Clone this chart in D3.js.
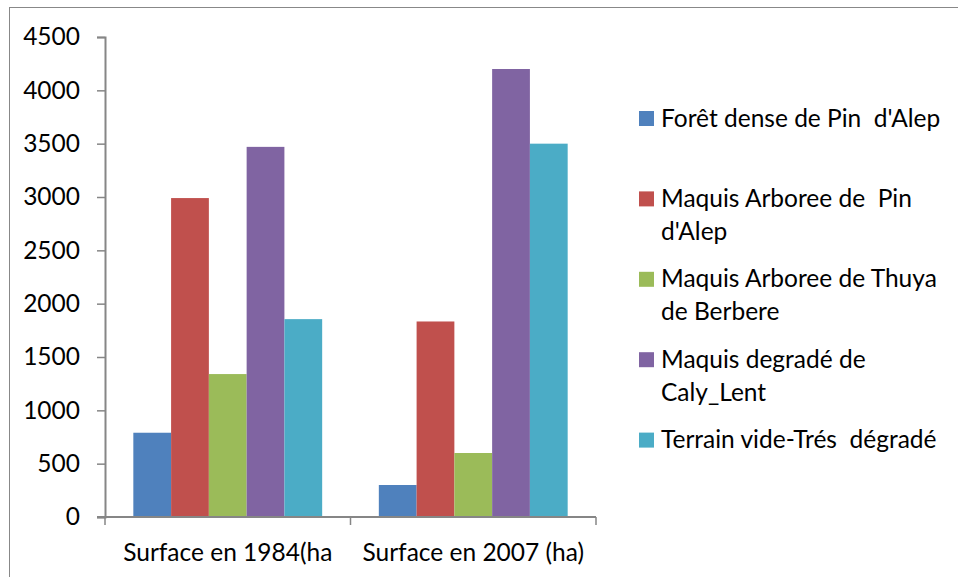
<!DOCTYPE html>
<html>
<head>
<meta charset="utf-8">
<script src="https://cdn.jsdelivr.net/npm/d3@7"></script>
<style>
  html, body { margin: 0; padding: 0; background: #fff; }
  svg { display: block; }
  text { font-family: Lato, "Open Sans", sans-serif; fill: #000; }
</style>
</head>
<body>
<svg id="chart" width="958" height="577"></svg>
<script>
// Land-cover surfaces (ha) for two survey years
const categories = ["Surface en 1984(ha", "Surface en 2007 (ha)"];
const seriesNames = [
  "Forêt dense de Pin  d'Alep",
  "Maquis Arboree de  Pin d'Alep",
  "Maquis Arboree de Thuya de Berbere",
  "Maquis degradé de Caly_Lent",
  "Terrain vide-Trés  dégradé"
];
const legendLines = [
  ["Forêt dense de Pin  d'Alep"],
  ["Maquis Arboree de  Pin", "d'Alep"],
  ["Maquis Arboree de Thuya", "de Berbere"],
  ["Maquis degradé de", "Caly_Lent"],
  ["Terrain vide-Trés  dégradé"]
];
const forêtDense = [790, 300];
const maquisPin = [2990, 1833];
const maquisThuya = [1340, 600];
const maquisDegrade = [3470, 4200];
const terrainVide = [1855, 3500];
const yTicks = [0, 500, 1000, 1500, 2000, 2500, 3000, 3500, 4000, 4500];
const colors = ["#4F81BD", "#C0504D", "#9BBB59", "#8064A2", "#4BACC6"];

const seriesValues = [forêtDense, maquisPin, maquisThuya, maquisDegrade, terrainVide];
const fontSize = "24.5px";

const svg = d3.select("#chart");

// outer chart frame
svg.append("rect")
  .attr("x", 9.5).attr("y", 7.5)
  .attr("width", 1000).attr("height", 1000)
  .attr("fill", "none").attr("stroke", "#888").attr("stroke-width", 1);

const plot = { left: 105, right: 596, top: 37, bottom: 517 };

const x0 = d3.scaleBand()
  .domain(categories)
  .range([plot.left, plot.right])
  .paddingInner(0).paddingOuter(0);

const x1 = d3.scaleBand()
  .domain(d3.range(seriesNames.length))
  .range([0, x0.bandwidth()])
  .paddingOuter(0.75).paddingInner(0);

const y = d3.scaleLinear().domain([0, 4500]).range([plot.bottom, plot.top]);

// bars
const groups = svg.append("g").selectAll("g")
  .data(categories)
  .join("g")
  .attr("transform", d => `translate(${x0(d)},0)`);

groups.selectAll("rect")
  .data((c, ci) => seriesValues.map((vals, si) => ({ si, v: vals[ci] })))
  .join("rect")
  .attr("x", d => x1(d.si))
  .attr("width", x1.bandwidth())
  .attr("y", d => y(d.v))
  .attr("height", d => y(0) - y(d.v))
  .attr("fill", d => colors[d.si]);

// y axis
const yAxis = d3.axisLeft(y).tickValues(yTicks).tickFormat(d3.format("d"))
  .tickSize(8).tickPadding(17);
const gy = svg.append("g").attr("transform", `translate(${plot.left},0)`).call(yAxis);
gy.select(".domain").attr("stroke", "#868686").attr("stroke-width", 2);
gy.selectAll(".tick line").attr("stroke", "#868686").attr("stroke-width", 1.5);
gy.selectAll(".tick text").style("font-size", fontSize).attr("fill", "#000")
  .style("font-family", "Lato, sans-serif");

// x axis
const xAxis = d3.axisBottom(x0).tickSize(0).tickPadding(21);
const gx = svg.append("g").attr("transform", `translate(0,${plot.bottom})`).call(xAxis);
gx.select(".domain").attr("stroke", "#868686").attr("stroke-width", 2)
  .attr("d", `M${plot.left - 8},0H${plot.right}`);
gx.selectAll(".tick text").style("font-size", fontSize).attr("fill", "#000")
  .style("font-family", "Lato, sans-serif").attr("dy", "0.95em");
// category separators
const seps = [plot.left, ...categories.map(c => x0(c) + x0.bandwidth())];
gx.selectAll(".sep").data(seps).join("line")
  .attr("x1", d => d).attr("x2", d => d)
  .attr("y1", 0).attr("y2", 8)
  .attr("stroke", "#868686").attr("stroke-width", 1.5);

// legend
const legend = svg.append("g").attr("transform", "translate(639,111)");
const items = legend.selectAll("g").data(legendLines).join("g")
  .attr("transform", (d, i) => `translate(0,${i * 80.4})`);
items.append("rect").attr("width", 15).attr("height", 15).attr("fill", (d, i) => colors[i]);
items.each(function(lines) {
  const t = d3.select(this).append("text").attr("x", 22).attr("y", 15.5)
    .style("font-size", fontSize);
  lines.forEach((ln, k) => {
    t.append("tspan").attr("x", 22).attr("dy", k === 0 ? 0 : 33)
      .attr("xml:space", "preserve").style("white-space", "pre").text(ln);
  });
});
</script>
</body>
</html>
